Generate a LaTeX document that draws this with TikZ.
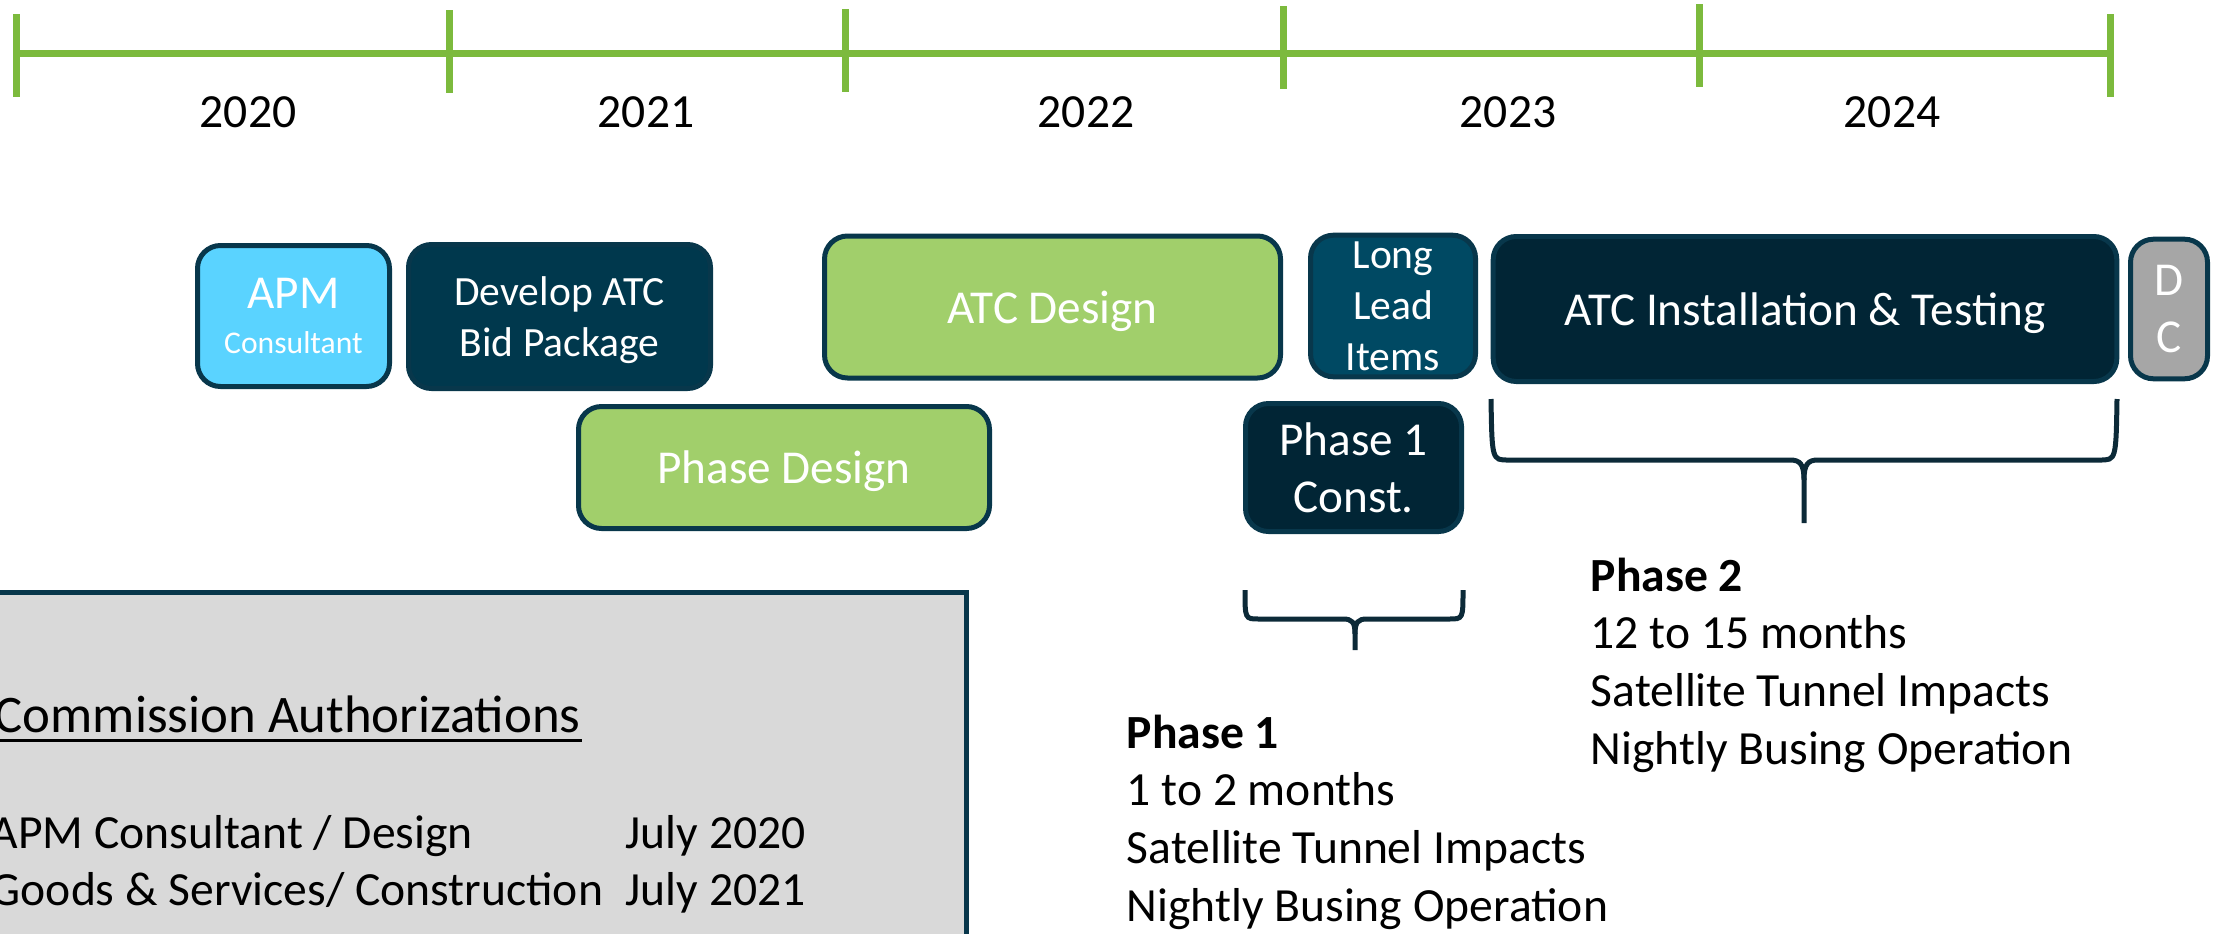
\documentclass[tikz,border=0pt]{standalone}
\usepackage{fontspec}
\setmainfont{Carlito}

\definecolor{tlgreen}{RGB}{124,186,61}
\definecolor{lightgreen}{RGB}{161,207,107}
\definecolor{apmblue}{RGB}{90,211,255}
\definecolor{navy}{RGB}{0,56,77}
\definecolor{leadblue}{RGB}{0,73,99}
\definecolor{deepnavy}{RGB}{1,37,53}
\definecolor{boxedge}{RGB}{8,55,75}
\definecolor{dcgray}{RGB}{166,166,166}
\definecolor{panelgray}{RGB}{217,217,217}
\definecolor{bracecol}{RGB}{12,42,56}

\begin{document}
\begin{tikzpicture}[x=0.25pt,y=-0.25pt,
		box/.style={draw=boxedge,line width=1.25pt,rounded corners=5.75pt,text=white,align=center,inner sep=0pt,text depth=0pt,font=\fontsize{11.8}{14.3}\selectfont},
		smallbox/.style={box,font=\fontsize{10.4}{12.75}\selectfont},
		year/.style={anchor=base,font=\fontsize{11.9}{14}\selectfont},
		tick/.style={draw=tlgreen,line width=1.75pt},
		brace/.style={draw=bracecol,line width=1.25pt},
		note/.style={anchor=base west,align=left,inner sep=0pt,font=\fontsize{11.9}{14.4}\selectfont}]
		%%
  \useasboundingbox (0,0) rectangle (2226,933);
  \clip (0,0) rectangle (2226,933);
		%% time line
  \draw [tick] (16,53) -- (2110,53);
  \foreach \x/\t in {16/14,449/10,845/9,1283/6,1699/4,2110/14}
    \draw [tick] (\x,\t) -- (\x,\t+83);
  \node (Y2020) at (248,127) [year] {2020};
  \node (Y2021) at (646,127) [year] {2021};
  \node (Y2022) at (1086,127) [year] {2022};
  \node (Y2023) at (1508,127) [year] {2023};
  \node (Y2024) at (1892,127) [year] {2024};
		%% tasks
  \node (APM) at (293.5,316) [box,fill=apmblue,minimum width=48pt,minimum height=35.25pt] {APM\\[-3.2pt]{\fontsize{7.9}{9}\selectfont Consultant}};
  \node (Develop) at (559.5,316.5) [smallbox,fill=navy,minimum width=75.5pt,minimum height=36pt] {Develop ATC\\Bid Package};
  \node (ATCDesign) at (1052.5,307) [box,fill=lightgreen,minimum width=114pt,minimum height=35.5pt] {ATC Design};
  \node (PhaseDesign) at (784,467.5) [box,fill=lightgreen,minimum width=102.75pt,minimum height=30.5pt] {Phase Design};
  \node (LongLead) at (1393,306) [smallbox,fill=leadblue,minimum width=41.25pt,minimum height=35.4pt] {Long\\Lead\\Items};
  \node (Install) at (1805,309) [box,fill=deepnavy,minimum width=155.9pt,minimum height=36.25pt] {ATC Installation \& Testing};
  \node (DC) at (2169,309) [box,fill=dcgray,minimum width=19.25pt,minimum height=34.9pt] {D\\C};
  \node (Const) at (1353.5,467.5) [box,fill=deepnavy,minimum width=54pt,minimum height=32pt] {Phase 1\\Const.};
		%% braces under the phases
  \draw [brace] (1245,590) .. controls (1245,619) and (1245,619) .. (1259,619) -- (1343,619) .. controls (1352,619) and (1355,622) .. (1355,634) -- (1355,650);
  \draw [brace] (1463,590) .. controls (1463,619) and (1463,619) .. (1449,619) -- (1367,619) .. controls (1358,619) and (1355,622) .. (1355,634);
  \draw [brace] (1491,399) .. controls (1492,460) and (1492,460) .. (1508,460) -- (1790,460) .. controls (1800,460) and (1804,464) .. (1804,480) -- (1804,523);
  \draw [brace] (2117,399) .. controls (2116,460) and (2116,460) .. (2100,460) -- (1818,460) .. controls (1808,460) and (1804,464) .. (1804,480);
		%% phase notes (base is the last line)
  \node (Phase1) at (1126,921) [note] {\textbf{Phase 1}\\1 to 2 months\\Satellite Tunnel Impacts\\Nightly Busing Operation};
  \node (Phase2) at (1590,764) [note] {\textbf{Phase 2}\\12 to 15 months\\Satellite Tunnel Impacts\\Nightly Busing Operation};
		%% authorizations panel
  \node (Commission) at (473,776) [draw=boxedge,fill=panelgray,line width=1.25pt,minimum width=246.75pt,minimum height=91.75pt] {};
  \node (Title) at (-6,732) [note,font=\fontsize{13.2}{15}\selectfont] {Commission Authorizations};
  \draw [line width=0.75pt] ([yshift=-1.75pt]Title.south west) -- ([yshift=-1.75pt]Title.south east);
  \node (APMAuth) at (-10,848) [note] {APM Consultant / Design};
  \node (APMDate) at (625,848) [note] {July 2020};
  \node (GoodsAuth) at (-10,905) [note] {Goods \& Services/ Construction};
  \node (GoodsDate) at (625,905) [note] {July 2021};
		%
	\end{tikzpicture}
\end{document}
